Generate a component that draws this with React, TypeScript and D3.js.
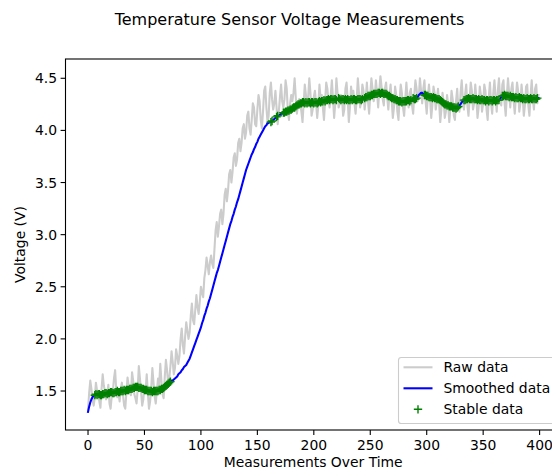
import React from 'react';
import * as d3 from 'd3';

const rawData: number[] = [
  1.32, 1.48, 1.60, 1.52, 1.41, 1.36, 1.44, 1.58, 1.50, 1.47,
  1.40, 1.34, 1.52, 1.66, 1.55, 1.50, 1.42, 1.47, 1.56, 1.38,
  1.33, 1.45, 1.50, 1.62, 1.70, 1.51, 1.44, 1.48, 1.40, 1.52,
  1.58, 1.46, 1.36, 1.33, 1.49, 1.63, 1.55, 1.51, 1.46, 1.68,
  1.60, 1.47, 1.43, 1.38, 1.52, 1.74, 1.62, 1.49, 1.36, 1.42,
  1.55, 1.50, 1.66, 1.48, 1.33, 1.40, 1.53, 1.72, 1.58, 1.45,
  1.38, 1.50, 1.62, 1.55, 1.76, 1.60, 1.47, 1.43, 1.64, 1.80,
  1.70, 1.56, 1.62, 1.74, 1.88, 1.78, 1.66, 1.72, 1.90, 1.84,
  1.76, 1.84, 2.00, 2.10, 1.94, 1.86, 2.02, 2.16, 2.08, 2.00,
  2.06, 2.22, 2.34, 2.18, 2.14, 2.28, 2.42, 2.30, 2.24, 2.36,
  2.50, 2.44, 2.40, 2.58, 2.66, 2.78, 2.70, 2.62, 2.74, 2.80,
  2.72, 2.68, 2.86, 3.04, 3.12, 2.98, 3.08, 3.20, 3.24, 3.10,
  3.20, 3.38, 3.44, 3.32, 3.42, 3.58, 3.62, 3.50, 3.60, 3.74,
  3.78, 3.66, 3.72, 3.88, 3.92, 3.80, 3.88, 4.02, 4.06, 3.92,
  3.98, 4.14, 4.18, 4.02, 3.96, 4.10, 4.26, 4.22, 4.06, 4.04,
  4.20, 4.34, 4.28, 4.10, 4.02, 4.18, 4.38, 4.42, 4.22, 4.08,
  4.14, 4.36, 4.46, 4.30, 4.20, 4.26, 4.38, 4.22, 4.06, 4.18,
  4.32, 4.44, 4.28, 4.22, 4.30, 4.48, 4.40, 4.18, 4.10, 4.26,
  4.34, 4.28, 4.36, 4.50, 4.32, 4.16, 4.24, 4.30, 4.26, 4.18,
  4.08, 4.26, 4.44, 4.34, 4.24, 4.32, 4.50, 4.36, 4.14, 4.20,
  4.32, 4.38, 4.26, 4.12, 4.24, 4.44, 4.30, 4.34, 4.22, 4.10,
  4.28, 4.46, 4.40, 4.28, 4.22, 4.34, 4.48, 4.30, 4.12, 4.26,
  4.50, 4.36, 4.22, 4.26, 4.34, 4.30, 4.14, 4.20, 4.40, 4.46,
  4.30, 4.08, 4.22, 4.42, 4.32, 4.38, 4.26, 4.16, 4.30, 4.50,
  4.36, 4.22, 4.28, 4.44, 4.38, 4.20, 4.30, 4.46, 4.28, 4.16,
  4.34, 4.50, 4.40, 4.28, 4.32, 4.48, 4.36, 4.22, 4.38, 4.52,
  4.42, 4.30, 4.24, 4.40, 4.46, 4.32, 4.20, 4.34, 4.44, 4.28,
  4.12, 4.22, 4.42, 4.34, 4.18, 4.10, 4.30, 4.44, 4.36, 4.22,
  4.14, 4.30, 4.46, 4.30, 4.22, 4.36, 4.40, 4.24, 4.16, 4.34,
  4.48, 4.40, 4.28, 4.32, 4.50, 4.38, 4.26, 4.40, 4.48, 4.28,
  4.16, 4.32, 4.44, 4.30, 4.12, 4.24, 4.42, 4.36, 4.20, 4.28,
  4.40, 4.26, 4.08, 4.20, 4.36, 4.28, 4.12, 4.18, 4.34, 4.24,
  4.08, 4.22, 4.38, 4.30, 4.14, 4.10, 4.28, 4.40, 4.22, 4.18,
  4.36, 4.48, 4.30, 4.20, 4.34, 4.44, 4.24, 4.14, 4.30, 4.46,
  4.38, 4.20, 4.26, 4.44, 4.30, 4.12, 4.22, 4.42, 4.34, 4.18,
  4.26, 4.44, 4.38, 4.20, 4.10, 4.32, 4.46, 4.26, 4.16, 4.36,
  4.48, 4.32, 4.18, 4.38, 4.50, 4.30, 4.24, 4.44, 4.48, 4.26,
  4.14, 4.34, 4.50, 4.36, 4.22, 4.40, 4.46, 4.28, 4.16, 4.32,
  4.46, 4.38, 4.18, 4.26, 4.44, 4.32, 4.14, 4.24, 4.42, 4.44,
  4.24, 4.14, 4.34, 4.48, 4.30, 4.20, 4.40, 4.44, 4.26, 4.34,
];

const smoothedData: number[] = [
  1.30, 1.35, 1.39, 1.42, 1.44, 1.46, 1.46, 1.47, 1.46, 1.47,
  1.47, 1.46, 1.46, 1.47, 1.47, 1.48, 1.48, 1.47, 1.48, 1.48,
  1.49, 1.49, 1.48, 1.48, 1.49, 1.49, 1.50, 1.49, 1.49, 1.50,
  1.50, 1.50, 1.51, 1.50, 1.51, 1.51, 1.51, 1.52, 1.52, 1.52,
  1.53, 1.53, 1.54, 1.54, 1.54, 1.53, 1.53, 1.53, 1.52, 1.52,
  1.51, 1.51, 1.51, 1.50, 1.50, 1.50, 1.50, 1.49, 1.50, 1.50,
  1.50, 1.50, 1.50, 1.51, 1.51, 1.52, 1.52, 1.53, 1.54, 1.55,
  1.56, 1.57, 1.58, 1.59, 1.60, 1.60, 1.61, 1.62, 1.63, 1.64,
  1.66, 1.67, 1.68, 1.70, 1.71, 1.73, 1.74, 1.75, 1.77, 1.79,
  1.81, 1.84, 1.87, 1.90, 1.93, 1.96, 1.99, 2.02, 2.05, 2.08,
  2.11, 2.15, 2.18, 2.22, 2.25, 2.29, 2.32, 2.36, 2.39, 2.43,
  2.47, 2.51, 2.55, 2.59, 2.63, 2.66, 2.70, 2.74, 2.78, 2.82,
  2.86, 2.90, 2.94, 2.98, 3.02, 3.06, 3.10, 3.13, 3.17, 3.20,
  3.24, 3.27, 3.31, 3.34, 3.38, 3.42, 3.46, 3.50, 3.54, 3.58,
  3.62, 3.65, 3.68, 3.71, 3.74, 3.77, 3.79, 3.82, 3.84, 3.87,
  3.89, 3.92, 3.94, 3.96, 3.98, 4.00, 4.02, 4.04, 4.05, 4.07,
  4.07, 4.08, 4.08, 4.09, 4.10, 4.11, 4.12, 4.13, 4.14, 4.14,
  4.15, 4.16, 4.16, 4.17, 4.17, 4.18, 4.18, 4.19, 4.19, 4.20,
  4.20, 4.21, 4.22, 4.22, 4.23, 4.24, 4.25, 4.25, 4.26, 4.26,
  4.27, 4.27, 4.26, 4.27, 4.26, 4.27, 4.27, 4.26, 4.27, 4.27,
  4.26, 4.27, 4.27, 4.26, 4.27, 4.28, 4.27, 4.28, 4.28, 4.29,
  4.28, 4.29, 4.29, 4.30, 4.29, 4.30, 4.30, 4.29, 4.30, 4.30,
  4.29, 4.30, 4.31, 4.30, 4.29, 4.30, 4.30, 4.29, 4.30, 4.29,
  4.30, 4.29, 4.29, 4.30, 4.29, 4.30, 4.30, 4.29, 4.29, 4.30,
  4.30, 4.30, 4.29, 4.30, 4.31, 4.31, 4.32, 4.32, 4.33, 4.33,
  4.33, 4.34, 4.34, 4.35, 4.35, 4.35, 4.35, 4.36, 4.36, 4.35,
  4.36, 4.36, 4.35, 4.35, 4.35, 4.34, 4.33, 4.33, 4.32, 4.31,
  4.31, 4.30, 4.30, 4.29, 4.29, 4.28, 4.28, 4.28, 4.27, 4.28,
  4.28, 4.28, 4.28, 4.29, 4.29, 4.28, 4.29, 4.29, 4.31, 4.30,
  4.30, 4.31, 4.32, 4.34, 4.35, 4.36, 4.36, 4.35, 4.34, 4.34,
  4.33, 4.33, 4.32, 4.32, 4.32, 4.31, 4.32, 4.31, 4.31, 4.30,
  4.30, 4.30, 4.29, 4.28, 4.27, 4.26, 4.25, 4.25, 4.24, 4.24,
  4.23, 4.23, 4.23, 4.22, 4.22, 4.22, 4.21, 4.22, 4.23, 4.24,
  4.25, 4.27, 4.28, 4.29, 4.29, 4.30, 4.30, 4.31, 4.30, 4.30,
  4.30, 4.31, 4.30, 4.30, 4.30, 4.29, 4.30, 4.29, 4.29, 4.30,
  4.29, 4.29, 4.28, 4.29, 4.29, 4.28, 4.29, 4.29, 4.28, 4.29,
  4.29, 4.28, 4.29, 4.29, 4.29, 4.30, 4.32, 4.33, 4.33, 4.34,
  4.33, 4.33, 4.33, 4.32, 4.33, 4.32, 4.32, 4.32, 4.31, 4.32,
  4.31, 4.31, 4.32, 4.31, 4.31, 4.30, 4.31, 4.30, 4.30, 4.31,
  4.30, 4.30, 4.31, 4.30, 4.30, 4.31, 4.30, 4.30, 4.31, 4.31,
];

// index ranges (inclusive) flagged as stable
const stableRanges: [number, number][] = [
  [6, 73], [162, 163], [167, 168], [173, 220], [222, 243], [245, 286],
  [288, 291], [298, 328], [333, 364], [367, 398],
];

const xTicks = [0, 50, 100, 150, 200, 250, 300, 350, 400];
const yTicks = [1.5, 2.0, 2.5, 3.0, 3.5, 4.0, 4.5];
const legendLabels = ['Raw data', 'Smoothed data', 'Stable data'];

const FONT = '"DejaVu Sans", sans-serif';

export default function App() {
  const left = 65.5, right = 561, top = 59, bottom = 430;
  const x = d3.scaleLinear().domain([-19.95, 418.95]).range([left, right]);
  const y = d3.scaleLinear().domain([1.126, 4.685]).range([bottom, top]);
  const line = d3.line<number>().x((_, i) => x(i)).y((d) => y(d));
  const stableIdx = stableRanges.flatMap(([a, b]) => d3.range(a, b + 1));
  const m = 4.17;
  const plus = `M${-m},0H${m}M0,${-m}V${m}`;

  const lgX = 398.5, lgY = 357.5, lgW = 156, lgH = 66;
  const rowY = [367.3, 388.3, 409.3];

  return (
    <svg width={552} height={472} style={{ position: 'absolute', left: 0, top: 0, background: '#fff' }} fontFamily={FONT}>
      <rect x={0} y={0} width={552} height={472} fill="#fff" />
      <defs>
        <clipPath id="plotclip">
          <rect x={left} y={top} width={right - left} height={bottom - top} />
        </clipPath>
      </defs>
      <text x={289.5} y={25} textAnchor="middle" fontSize={16} fill="#000">Temperature Sensor Voltage Measurements</text>
      <g clipPath="url(#plotclip)">
        <path d={line(rawData) || ''} fill="none" stroke="#cccccc" strokeWidth={2.08} strokeLinejoin="round" strokeLinecap="square" />
        <path d={line(smoothedData) || ''} fill="none" stroke="#0000ff" strokeWidth={2.08} strokeLinejoin="round" strokeLinecap="square" />
        {stableIdx.map((i) => (
          <path key={i} d={plus} transform={`translate(${x(i)},${y(smoothedData[i])})`} stroke="#008000" strokeWidth={1.39} fill="none" />
        ))}
      </g>
      <rect x={left} y={top} width={right - left} height={bottom - top} fill="none" stroke="#000" strokeWidth={1.1} />
      {xTicks.map((t) => (
        <g key={t} transform={`translate(${x(t)},${bottom})`}>
          <line y1={0} y2={4.9} stroke="#000" strokeWidth={1.1} />
          <text y={20} textAnchor="middle" fontSize={13.9} fill="#000">{t}</text>
        </g>
      ))}
      {yTicks.map((t) => (
        <g key={t} transform={`translate(${left},${y(t)})`}>
          <line x1={0} x2={-4.9} stroke="#000" strokeWidth={1.1} />
          <text x={-8.5} dy="0.36em" textAnchor="end" fontSize={13.9} fill="#000">{t.toFixed(1)}</text>
        </g>
      ))}
      <text x={(left + right) / 2} y={467} textAnchor="middle" fontSize={13.9} fill="#000">Measurements Over Time</text>
      <text transform={`translate(25,${(top + bottom) / 2}) rotate(-90)`} textAnchor="middle" fontSize={13.9} fill="#000">Voltage (V)</text>
      <g>
        <rect x={lgX} y={lgY} width={lgW} height={lgH} rx={2.8} fill="#fff" fillOpacity={0.8} stroke="#cccccc" strokeWidth={1.1} />
        <line x1={403.5} x2={432.5} y1={rowY[0]} y2={rowY[0]} stroke="#cccccc" strokeWidth={2.08} />
        <line x1={403.5} x2={432.5} y1={rowY[1]} y2={rowY[1]} stroke="#0000ff" strokeWidth={2.08} />
        <path d={plus} transform={`translate(418,${rowY[2]})`} stroke="#008000" strokeWidth={1.39} fill="none" />
        {legendLabels.map((l, k) => (
          <text key={l} x={443.5} y={rowY[k]} dy="0.36em" fontSize={13.9} fill="#000">{l}</text>
        ))}
      </g>
    </svg>
  );
}
